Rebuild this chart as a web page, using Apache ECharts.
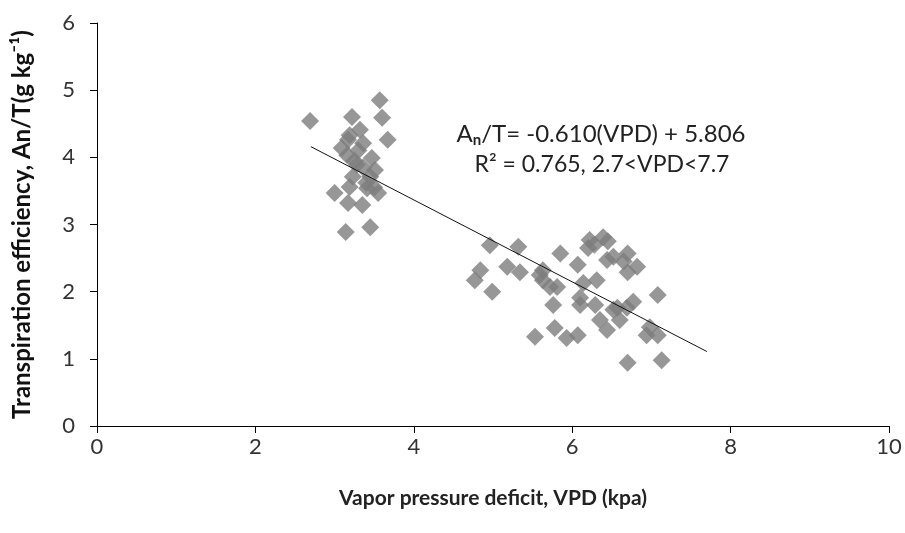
<!DOCTYPE html>
<html>
<head>
<meta charset="utf-8">
<script src="https://cdn.jsdelivr.net/npm/echarts@6/dist/echarts.min.js"></script>
<style>
  html, body { margin: 0; padding: 0; background: #fff; }
  #chart { width: 905px; height: 533px; }
</style>
</head>
<body>
<div id="chart"></div>
<script>
// Vapor pressure deficit (kPa) for each observation
const vpd = [
  2.69, 3.57, 3.60, 3.22, 3.67, 3.17, 3.36, 3.19, 3.09, 3.16,
  3.47, 3.28, 3.23, 3.45, 3.19, 3.41, 3.55, 3.00, 3.17, 3.35,
  3.14, 3.45, 3.32, 3.51, 3.30, 3.40, 3.25, 3.50, 3.36,
  4.96, 5.32, 4.84, 4.77, 4.99, 5.18, 5.34, 5.85, 5.63, 5.63,
  5.81, 6.07, 6.31, 6.14, 6.22, 6.39, 6.20, 6.44, 6.52, 6.70,
  6.82, 6.70, 7.08, 5.76, 6.10, 6.29, 6.10, 5.78, 5.53, 5.93,
  6.07, 6.35, 6.44, 6.60, 6.69, 6.77, 6.57, 6.98, 6.94, 7.08,
  6.70, 7.13, 5.59, 5.72, 6.52, 6.28, 6.45, 6.65
];
// Transpiration efficiency An/T (g kg-1) for the same observations
const te = [
  4.54, 4.85, 4.59, 4.60, 4.26, 4.26, 4.21, 4.33, 4.14, 4.03,
  3.99, 3.89, 3.71, 3.71, 3.56, 3.54, 3.47, 3.47, 3.32, 3.29,
  2.89, 2.96, 4.41, 3.81, 4.10, 3.62, 3.95, 3.55, 3.85,
  2.69, 2.67, 2.32, 2.17, 2.00, 2.37, 2.29, 2.57, 2.32, 2.17,
  2.07, 2.40, 2.17, 2.13, 2.77, 2.81, 2.65, 2.47, 2.52, 2.57,
  2.37, 2.29, 1.95, 1.80, 1.91, 1.80, 1.80, 1.46, 1.33, 1.31,
  1.35, 1.58, 1.43, 1.58, 1.76, 1.85, 1.76, 1.47, 1.35, 1.35,
  0.94, 0.98, 2.25, 2.07, 1.73, 2.70, 2.75, 2.45
];
// Linear fit stated on the chart, drawn over its VPD range
const fitSlope = -0.610;
const fitIntercept = 5.806;
const fitRange = [2.7, 7.7];

const xTicks = { min: 0, max: 10, interval: 2 };
const yTicks = { min: 0, max: 6, interval: 1 };

const FONT = 'Lato';

const points = vpd.map((v, i) => [v, te[i]]);
const fitLine = fitRange.map(v => [v, fitSlope * v + fitIntercept]);

const chart = echarts.init(document.getElementById('chart'), null, { renderer: 'canvas' });

chart.setOption({
  animation: false,
  backgroundColor: '#ffffff',
  grid: { left: 97, right: 16, top: 23, bottom: 107 },
  xAxis: {
    type: 'value',
    min: xTicks.min, max: xTicks.max, interval: xTicks.interval,
    splitLine: { show: false },
    axisLine: { show: true, onZero: false, lineStyle: { color: '#000', width: 1 } },
    axisTick: { show: true, length: 7, lineStyle: { color: '#000' } },
    axisLabel: { color: '#333', fontFamily: FONT, fontSize: 22, margin: 10 },
    name: 'Vapor pressure deficit, VPD (kpa)',
    nameLocation: 'middle',
    nameGap: 62,
    nameTextStyle: { color: '#222', fontFamily: FONT, fontSize: 21, fontWeight: 'bold' }
  },
  yAxis: {
    type: 'value',
    min: yTicks.min, max: yTicks.max, interval: yTicks.interval,
    splitLine: { show: false },
    axisLine: { show: true, onZero: false, lineStyle: { color: '#000', width: 1 } },
    axisTick: { show: true, length: 7, lineStyle: { color: '#000' } },
    axisLabel: { color: '#333', fontFamily: FONT, fontSize: 22, margin: 22 },
    name: 'Transpiration efficiency, An/T(g kg⁻¹)',
    nameLocation: 'middle',
    nameGap: 63,
    nameRotate: 90,
    nameTextStyle: { color: '#111', fontFamily: FONT, fontSize: 24, fontWeight: 'bold' }
  },
  series: [
    {
      type: 'scatter',
      data: points,
      symbol: 'diamond',
      symbolSize: 18,
      itemStyle: { color: '#7d7d7d' },
      z: 2
    },
    {
      type: 'line',
      data: fitLine,
      symbol: 'none',
      lineStyle: { color: '#111', width: 1 },
      z: 3
    }
  ],
  graphic: [
    {
      type: 'text',
      x: 601,
      y: 134,
      style: {
        text: 'A{sub|n}/T= -0.610(VPD) + 5.806',
        fill: '#222',
        font: '24px ' + FONT,
        align: 'center',
        verticalAlign: 'middle',
        rich: {
          sub: { fontFamily: FONT, fontSize: 15, fontWeight: 'bold', fill: '#222', padding: [12, 0, 0, 0] }
        }
      }
    },
    {
      type: 'text',
      x: 602,
      y: 165,
      style: {
        text: 'R² = 0.765, 2.7<VPD<7.7',
        fill: '#222',
        font: '23px ' + FONT,
        align: 'center',
        verticalAlign: 'middle'
      }
    }
  ]
});
</script>
</body>
</html>
